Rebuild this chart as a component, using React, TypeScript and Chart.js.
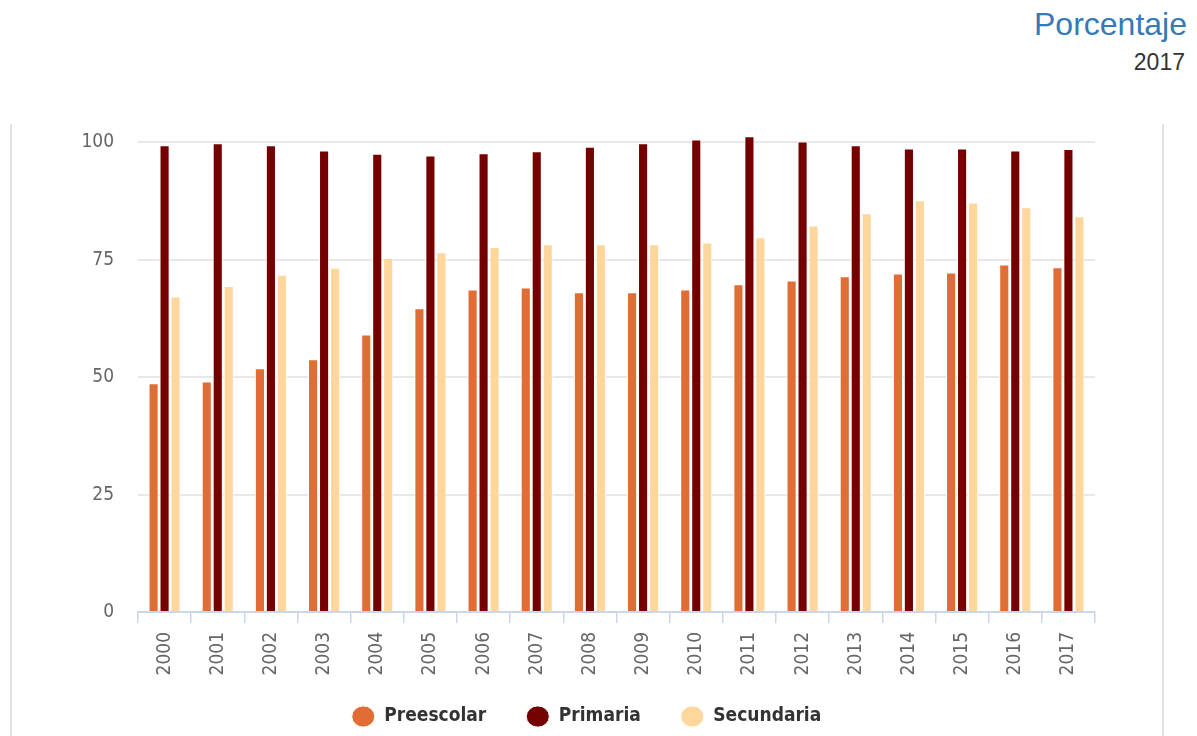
import React, { useEffect, useRef } from "react";
import { Chart, registerables } from "chart.js";

Chart.register(...registerables);

const years = ["2000","2001","2002","2003","2004","2005","2006","2007","2008","2009","2010","2011","2012","2013","2014","2015","2016","2017"];
const preescolar = [48.7,49.1,51.9,53.8,59.1,64.7,68.7,69.1,68.1,68.1,68.7,69.8,70.6,71.5,72.1,72.3,74.0,73.4];
const primaria = [99.4,99.8,99.4,98.3,97.6,97.2,97.7,98.1,99.1,99.8,100.6,101.3,100.2,99.4,98.7,98.7,98.3,98.6];
const secundaria = [67.2,69.4,71.8,73.3,75.4,76.6,77.7,78.3,78.3,78.3,78.7,79.8,82.3,84.9,87.7,87.2,86.2,84.3];
const yTicks = [0, 25, 50, 75, 100];
const title = "Porcentaje";
const subtitle = "2017";

const FONT = "'DejaVu Sans Condensed', 'DejaVu Sans', sans-serif";

// moves the legend row closer to the axis labels (keeps wide horizontal gaps)
const legendShift = {
  id: "legendShift",
  afterLayout(chart: any) {
    const l = chart.legend;
    if (l) {
      l.top -= 30;
      l.bottom -= 30;
      l.left += 33;
      l.right += 33;
    }
  },
};

export default function App() {
  const ref = useRef<HTMLCanvasElement | null>(null);
  useEffect(() => {
    if (!ref.current) return;
    const chart = new Chart(ref.current, {
      type: "bar",
      data: {
        labels: years,
        datasets: [
          { label: "Preescolar", data: preescolar, backgroundColor: "#e06d35", borderColor: "#ffffff", borderWidth: 1, clip: false as any },
          { label: "Primaria", data: primaria, backgroundColor: "#750000", borderColor: "#ffffff", borderWidth: 1, clip: false as any },
          { label: "Secundaria", data: secundaria, backgroundColor: "#ffd69b", borderColor: "#ffffff", borderWidth: 1, clip: false as any },
        ],
      },
      plugins: [legendShift],
      options: {
        animation: false,
        responsive: true,
        maintainAspectRatio: false,
        layout: { padding: { top: 1, right: 67, left: 0, bottom: 0 } },
        datasets: { bar: { categoryPercentage: 0.62, barPercentage: 0.92 } },
        plugins: {
          tooltip: { enabled: false },
          legend: {
            position: "bottom",
            labels: {
              usePointStyle: true,
              pointStyle: "circle",
              pointStyleWidth: 23,
              boxWidth: 23,
              boxHeight: 15,
              padding: 40,
              color: "#333333",
              font: { family: FONT, size: 19, weight: "bold" },
            },
          },
        },
        scales: {
          x: {
            offset: true,
            grid: { display: true, drawOnChartArea: false, tickLength: 11, color: "#ccd6eb", lineWidth: 1.5 },
            border: { display: true, color: "#ccd6eb", width: 2 },
            ticks: {
              color: "#666666",
              font: { family: FONT, size: 19 },
              maxRotation: 90,
              minRotation: 90,
              padding: 9,
            },
            afterFit: (s: any) => { s.height = 85; },
          },
          y: {
            min: 0,
            max: 100,
            afterBuildTicks: (s: any) => { s.ticks = yTicks.map((v) => ({ value: v })); },
            grid: { color: "#e8e8e8", lineWidth: 2, drawTicks: false },
            border: { display: false },
            ticks: {
              color: "#666666",
              font: { family: FONT, size: 19 },
              padding: 24,
            },
            afterFit: (s: any) => { s.width = 126; },
          },
        },
      },
    });
    return () => chart.destroy();
  }, []);

  return (
    <div style={{ position: "fixed", left: 0, top: 0, width: 1197, height: 736, background: "#fff", overflow: "hidden" }}>
      <div style={{ position: "absolute", right: 10, top: 6, fontFamily: "Liberation Sans, Arial, sans-serif", fontSize: 32, color: "#337ab7" }}>{title}</div>
      <div style={{ position: "absolute", right: 12, top: 49, fontFamily: "Liberation Sans, Arial, sans-serif", fontSize: 23, color: "#333" }}>{subtitle}</div>
      <div style={{ position: "absolute", left: 10, top: 124, width: 2, height: 612, background: "#e2e2e2" }} />
      <div style={{ position: "absolute", left: 1162, top: 124, width: 2, height: 612, background: "#e2e2e2" }} />
      <div style={{ position: "absolute", left: 12, top: 107, width: 1150, height: 659 }}>
        <canvas ref={ref} />
      </div>
    </div>
  );
}
